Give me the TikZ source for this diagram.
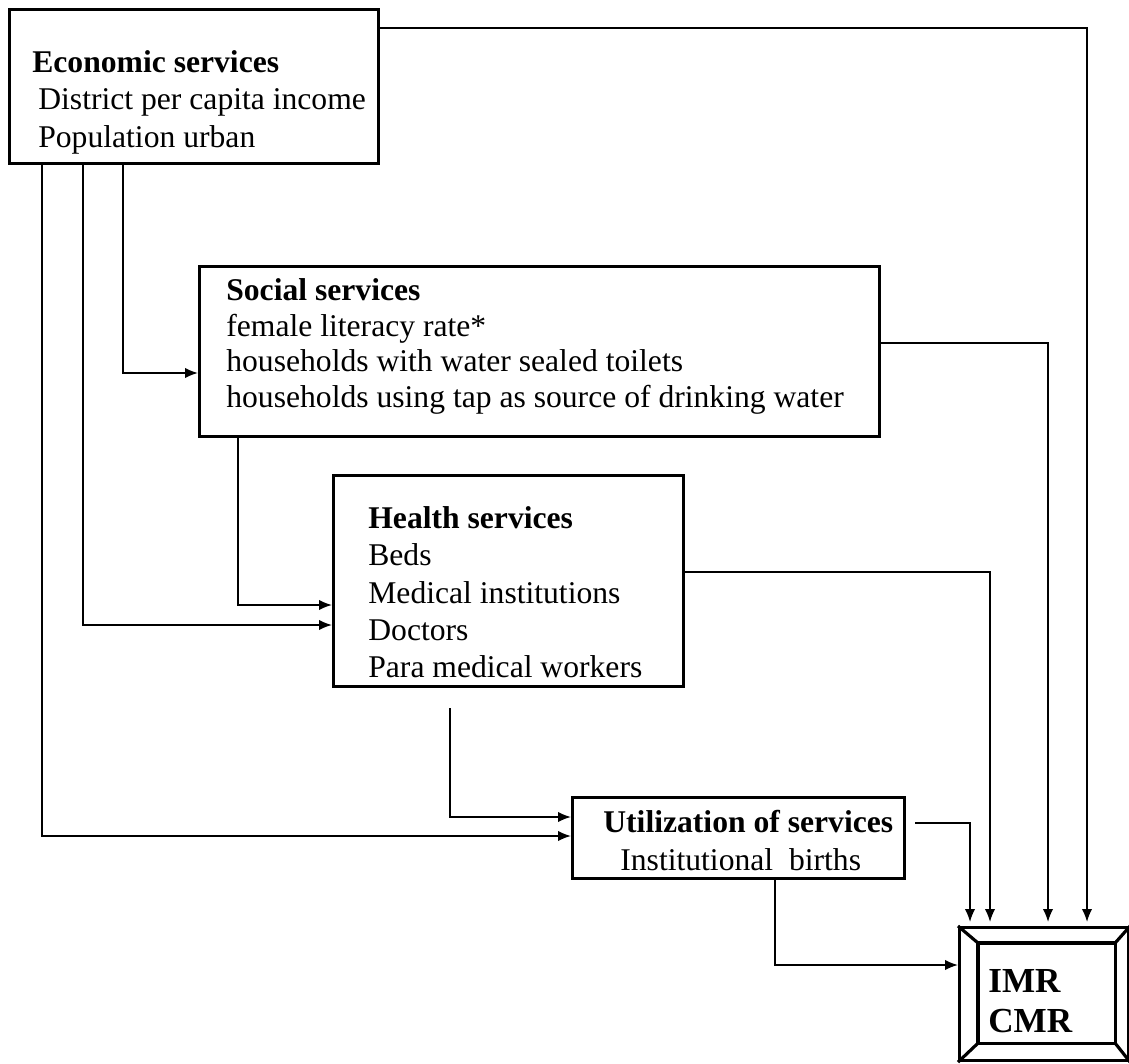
\documentclass[tikz,border=0pt]{standalone}
\usepackage{fontspec}
\setmainfont{Liberation Serif}
\usepackage{tikz}
\usetikzlibrary{arrows.meta}
\usetikzlibrary{calc}
\tikzset{
    box/.style={draw=black, line width=1.8pt, anchor=north west, inner sep=0pt},
    boxtext/.style={anchor=north west, inner sep=0pt, align=left,
        font=\fontsize{18}{#1}\selectfont},
    flow/.style={draw=black, line width=1pt, -{Latex[length=2.6mm,width=2.1mm]}},
    flowgap/.style={flow, shorten <=#1},
    toresult/.style={shorten >=0.08cm},
}

\begin{document}
\begin{tikzpicture}[x=0.02cm, y=-0.02cm]
	\useasboundingbox (0,0) rectangle (1129,1064);
	% boxes
	\node[box, minimum width=7.38cm, minimum height=3.08cm] (econ) at (8,8) {};
	\node[box, minimum width=13.6cm, minimum height=3.4cm] (social) at (198,265) {};
	\node[box, minimum width=7.0cm, minimum height=4.22cm] (health) at (332,474) {};
	\node[box, minimum width=6.64cm, minimum height=1.62cm] (util) at (571,796) {};
	\node[box, minimum width=3.38cm, minimum height=2.66cm] (imr) at (958,926) {};
	\coordinate (imrnw) at ($(imr.north west)+(20,17)$);
	\coordinate (imrne) at ($(imr.north east)+(-15,17)$);
	\coordinate (imrsw) at ($(imr.south west)+(20,-19)$);
	\coordinate (imrse) at ($(imr.south east)+(-15,-19)$);
	\draw[line width=1.8pt] (imrnw) rectangle (imrse);
	\draw[line width=1.8pt] (imr.north west)--(imrnw) (imr.north east)--(imrne)
		(imr.south west)--(imrsw) (imr.south east)--(imrse);
	% texts
	\node[boxtext=21.3] (econtxt) at (32,50) {\textbf{Economic services}\\
		\hspace{0.12cm}District per capita income\\
		\hspace{0.12cm}Population urban};
	\node[boxtext=20.4] (socialtxt) at (226,278) {\textbf{Social services}\\
		female literacy rate*\\
		households with water sealed toilets\\
		households using tap as source of drinking water};
	\node[boxtext=21.3] (healthtxt) at (368,506) {\textbf{Health services}\\
		Beds\\
		Medical institutions\\
		Doctors\\
		Para medical workers};
	\node[boxtext=21.5] (utiltxt) at (603,810) {\textbf{Utilization of services}\\
		\hspace{0.34cm}Institutional~ births};
	\node[anchor=north west, inner sep=0pt, align=left,
		font=\fontsize{20}{22.7}\selectfont\bfseries] (imrtxt) at (988,969) {IMR\\CMR};
	% connectors
	\draw[flow, toresult] (econ.east |- 0,28) -| (imr.north -| 1087,0);
	\draw[flow] (econ.south -| 123,0) |- (social.west |- 0,373);
	\draw[flow] (econ.south -| 83,0) |- (health.west |- 0,625);
	\draw[flow] (econ.south -| 42,0) |- (util.west |- 0,836);
	\draw[flow] (social.south -| 238,0) |- (health.west |- 0,605);
	\draw[flow, toresult] (social.east |- 0,343) -| (imr.north -| 1048,0);
	\draw[flow, toresult] (health.east |- 0,572) -| (imr.north -| 990,0);
	\draw[flowgap=0.4cm] (health.south -| 450,0) |- (util.west |- 0,817);
	\draw[flowgap=0.18cm, toresult] (util.east |- 0,823) -| (imr.north -| 970,0);
	\draw[flow] (util.south -| 775,0) |- (imr.west |- 0,965);
\end{tikzpicture}
\end{document}
